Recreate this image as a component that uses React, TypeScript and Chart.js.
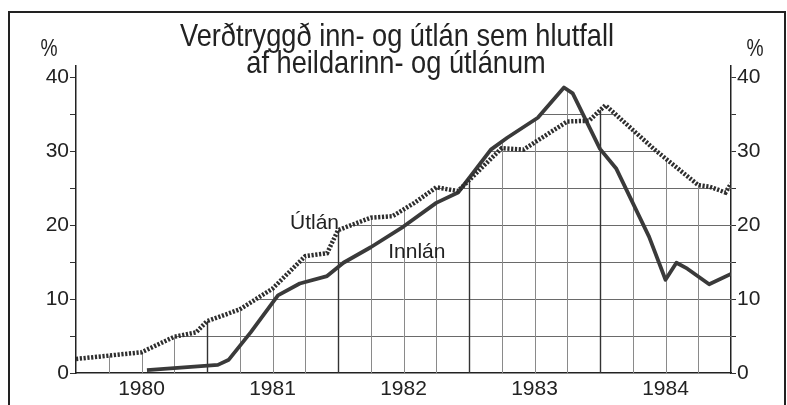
import React, { useEffect, useRef } from "react";
import { Chart, registerables } from "chart.js";

Chart.register(...registerables);

// x positions in months counted from mid-1979 (0 = 1979.5, 60 = 1984.5)
const yearLabels = ["1980", "1981", "1982", "1983", "1984"];
const yTickValues = [0, 5, 10, 15, 20, 25, 30, 35, 40];
const utlanMonths = [0, 6, 9, 11, 12, 15, 18, 21, 23, 24, 27, 29, 31, 33, 35, 39, 41, 45, 47, 48.5, 53, 57, 58, 59.5, 60];
const utlanValues = [1.9, 2.8, 4.9, 5.5, 7.0, 8.6, 11.4, 15.8, 16.2, 19.3, 21.0, 21.2, 23.0, 25.1, 24.6, 30.4, 30.2, 34.0, 34.1, 36.2, 30.2, 25.4, 25.2, 24.4, 25.6];
const innlanMonths = [6.5, 13, 14, 16, 18.5, 20.5, 23, 24.5, 27, 30, 33, 35, 38, 39.5, 42.3, 44.7, 45.5, 48, 49.5, 52.5, 54, 55, 56, 58, 60];
const innlanValues = [0.4, 1.1, 1.8, 5.5, 10.5, 12.1, 13.1, 14.9, 17.0, 19.8, 23.0, 24.4, 30.2, 31.8, 34.5, 38.6, 37.8, 30.3, 27.6, 18.4, 12.6, 14.9, 14.1, 12.0, 13.4];

const titleLines = ["Verðtryggð inn- og útlán sem hlutfall", "af heildarinn- og útlánum"];
const seriesNames = ["Útlán", "Innlán"];

const INK = "#2e2e2e";
const FONT = "'Liberation Sans', Arial, sans-serif";

const underGrid = {
  id: "underGrid",
  beforeDatasetsDraw(chart: any) {
    const { ctx, chartArea: a, scales } = chart;
    const x = scales.x;
    const y = scales.y;
    const base = y.getPixelForValue(0);
    ctx.save();
    ctx.beginPath();
    chart.data.datasets.forEach((_ds: any, i: number) => {
      const pts = chart.getDatasetMeta(i).data;
      if (!pts.length) return;
      ctx.moveTo(pts[0].x, base);
      pts.forEach((p: any) => ctx.lineTo(p.x, p.y));
      ctx.lineTo(pts[pts.length - 1].x, base);
      ctx.closePath();
    });
    ctx.clip();
    ctx.lineWidth = 1;
    ctx.strokeStyle = "#6a6a6a";
    for (let v = 5; v < 41; v += 5) {
      const py = Math.round(y.getPixelForValue(v)) + 0.5;
      ctx.beginPath();
      ctx.moveTo(a.left, py);
      ctx.lineTo(a.right, py);
      ctx.stroke();
    }
    for (let m = 3; m < 60; m += 3) {
      const px = Math.round(x.getPixelForValue(m)) + 0.5;
      const strong = m % 12 === 0;
      ctx.strokeStyle = strong ? "#333" : "#8a8a8a";
      ctx.lineWidth = strong ? 1.4 : 1;
      ctx.beginPath();
      ctx.moveTo(px, a.top);
      ctx.lineTo(px, a.bottom);
      ctx.stroke();
    }
    ctx.restore();
  },
};

function condensedText(ctx: any, text: string, cx: number, baseline: number, sx: number) {
  ctx.save();
  ctx.translate(cx, baseline);
  ctx.scale(sx, 1);
  ctx.fillText(text, 0, 0);
  ctx.restore();
}

const texts = {
  id: "texts",
  afterDraw(chart: any) {
    const { ctx, scales } = chart;
    const x = scales.x;
    const y = scales.y;
    ctx.save();
    ctx.fillStyle = "#222";
    ctx.textAlign = "center";
    ctx.textBaseline = "alphabetic";
    ctx.font = `32px ${FONT}`;
    condensedText(ctx, titleLines[0], 397, 46, 0.85);
    condensedText(ctx, titleLines[1], 396, 73, 0.85);
    ctx.font = `24px ${FONT}`;
    condensedText(ctx, "%", 49, 56, 0.8);
    condensedText(ctx, "%", 755, 56, 0.8);
    ctx.font = `21px ${FONT}`;
    ctx.textAlign = "left";
    ctx.fillText(seriesNames[0], x.getPixelForValue(19.6), y.getPixelForValue(19.4));
    ctx.fillText(seriesNames[1], x.getPixelForValue(28.6), y.getPixelForValue(15.6));
    // frame
    ctx.strokeStyle = "#222";
    ctx.lineWidth = 2;
    ctx.beginPath();
    ctx.moveTo(9, 405);
    ctx.lineTo(9, 12);
    ctx.lineTo(785, 12);
    ctx.lineTo(785, 405);
    ctx.stroke();
    ctx.restore();
  },
};

export default function App() {
  const ref = useRef<HTMLCanvasElement>(null);
  useEffect(() => {
    if (!ref.current) return;
    const tickCommon = { color: "#222", font: { family: FONT, size: 21 } };
    const yTicks = (s: any) => {
      s.ticks = yTickValues.map((v) => ({ value: v }));
    };
    const yLabel = (v: any) => (Number(v) % 10 === 0 ? String(v) : "");
    const chart = new Chart(ref.current, {
      type: "line",
      data: {
        datasets: [
          {
            label: seriesNames[0],
            data: utlanMonths.map((m, i) => ({ x: m, y: utlanValues[i] })),
            borderColor: INK,
            borderWidth: 4.5,
            borderDash: [2.2, 1.6],
            pointRadius: 0,
            tension: 0,
            yAxisID: "y",
          },
          {
            label: seriesNames[1],
            data: innlanMonths.map((m, i) => ({ x: m, y: innlanValues[i] })),
            borderColor: "#3a3a3a",
            borderWidth: 3.8,
            borderJoinStyle: "round",
            pointRadius: 0,
            tension: 0,
            yAxisID: "y",
          },
        ],
      },
      options: {
        responsive: false,
        animation: false,
        events: [],
        layout: { padding: { top: 66, left: 0, right: 0, bottom: 0 } },
        plugins: { legend: { display: false }, tooltip: { enabled: false }, title: { display: false } },
        scales: {
          x: {
            type: "linear",
            min: 0,
            max: 60,
            afterFit: (s: any) => { s.height = 32; },
            afterBuildTicks: (s: any) => {
              const t = [];
              for (let m = 0; m <= 60; m += 3) t.push({ value: m });
              s.ticks = t;
            },
            ticks: {
              ...tickCommon,
              autoSkip: false,
              maxRotation: 0,
              padding: 4,
              callback: (v: any) => {
                const i = (Number(v) - 6) / 12;
                return Number.isInteger(i) && yearLabels[i] ? yearLabels[i] : "";
              },
            },
            grid: { drawOnChartArea: false, drawTicks: false },
            border: { display: true, color: "#222", width: 1.5 },
          },
          y: {
            position: "left",
            min: 0,
            max: 41.5,
            afterFit: (s: any) => { s.width = 76; },
            afterBuildTicks: yTicks,
            ticks: { ...tickCommon, padding: 1, callback: yLabel },
            grid: { drawOnChartArea: false, drawTicks: true, tickLength: 6, color: "#333" },
            border: { display: true, color: "#222", width: 1.5 },
          },
          y2: {
            position: "right",
            min: 0,
            max: 41.5,
            afterFit: (s: any) => { s.width = 56; },
            afterBuildTicks: yTicks,
            ticks: { ...tickCommon, padding: 1, callback: yLabel },
            grid: { drawOnChartArea: false, drawTicks: true, tickLength: 5, color: "#333" },
            border: { display: true, color: "#222", width: 1.5 },
          },
        },
      },
      plugins: [underGrid, texts],
    } as any);
    return () => chart.destroy();
  }, []);
  return (
    <div style={{ position: "fixed", left: 0, top: 0, width: 787, height: 405, background: "#fff" }}>
      <canvas ref={ref} width={787} height={405} style={{ display: "block" }} />
    </div>
  );
}
